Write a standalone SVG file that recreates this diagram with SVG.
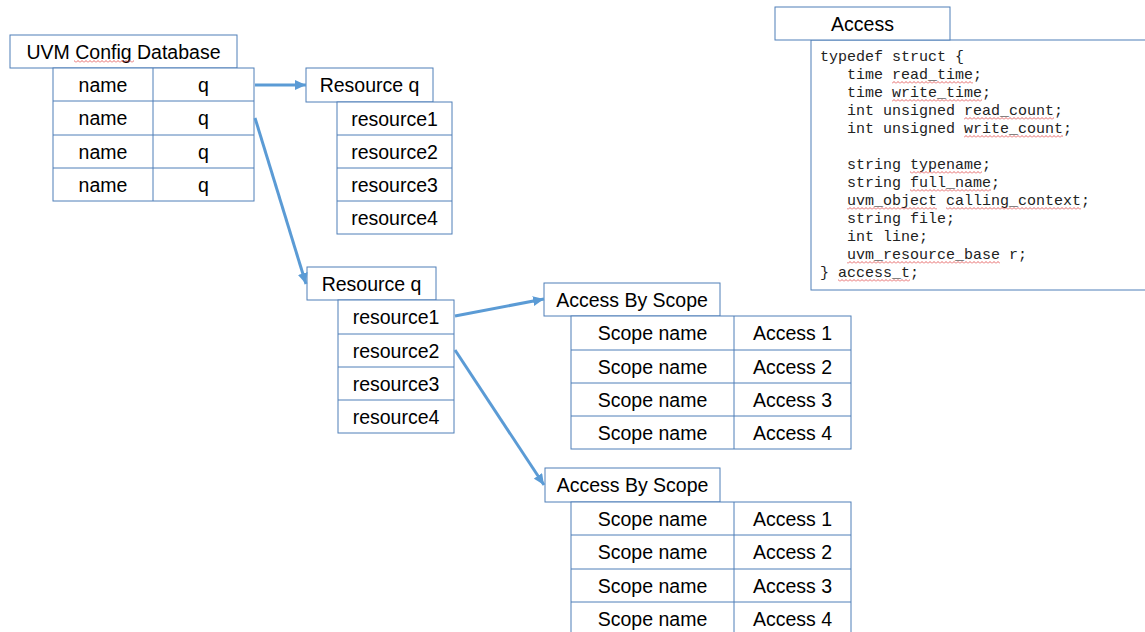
<svg xmlns="http://www.w3.org/2000/svg" width="1145" height="632" viewBox="0 0 1145 632">
  <style>
    .box { fill: #ffffff; stroke: #4f7fb8; stroke-width: 1; }
    .grid { fill: none; stroke: #4f7fb8; stroke-width: 1; }
    .t { font-family: "Liberation Sans", Arial, sans-serif; font-size: 19.5px; fill: #000000; text-anchor: middle; }
    .code { font-family: "Liberation Mono", "Courier New", monospace; font-size: 15px; fill: #222222; }
    .wire { fill: none; stroke: #5b9bd5; stroke-width: 3; marker-end: url(#head); }
    .squig { fill: url(#wave); }
  </style>
  <defs>
    <marker id="head" markerUnits="userSpaceOnUse" markerWidth="12" markerHeight="10" refX="11" refY="5" orient="auto">
      <path d="M0,0 L11,5 L0,10 z" fill="#5b9bd5"/>
    </marker>
    <!-- spell-check style wavy underline -->
    <pattern id="wave" patternUnits="userSpaceOnUse" width="4" height="3">
      <path d="M0,2.5 L2,0.5 L4,2.5" fill="none" stroke="#e04040" stroke-width="0.8"/>
    </pattern>
  </defs>

  <rect width="1145" height="632" fill="#ffffff"/>

  <!-- UVM config database -->
  <g id="uvm-config-db">
    <rect class="box" x="10" y="35" width="227" height="33"/>
    <text class="t" x="123.5" y="58.5">UVM Config Database</text>
    <rect class="squig" x="74" y="60" width="60" height="3"/>
    <rect class="box" x="53" y="68" width="201" height="133"/>
    <path class="grid" d="M53,101H254M53,135H254M53,168H254M153,68V201"/>
    <text class="t" x="103" y="91.5">name</text><text class="t" x="203.5" y="91.5">q</text>
    <text class="t" x="103" y="125">name</text><text class="t" x="203.5" y="125">q</text>
    <text class="t" x="103" y="158.5">name</text><text class="t" x="203.5" y="158.5">q</text>
    <text class="t" x="103" y="191.5">name</text><text class="t" x="203.5" y="191.5">q</text>
  </g>

  <!-- first resource queue -->
  <g id="resource-q-1">
    <rect class="box" x="306" y="68" width="127" height="34"/>
    <text class="t" x="369.5" y="92">Resource q</text>
    <rect class="box" x="337" y="102" width="115" height="132"/>
    <path class="grid" d="M337,135H452M337,168H452M337,201H452"/>
    <text class="t" x="394.5" y="125.5">resource1</text>
    <text class="t" x="394.5" y="158.5">resource2</text>
    <text class="t" x="394.5" y="191.5">resource3</text>
    <text class="t" x="394.5" y="224.5">resource4</text>
  </g>

  <!-- second resource queue -->
  <g id="resource-q-2">
    <rect class="box" x="307" y="267" width="129" height="33"/>
    <text class="t" x="371.5" y="290.5">Resource q</text>
    <rect class="box" x="338" y="300" width="116" height="133"/>
    <path class="grid" d="M338,334H454M338,367H454M338,400H454"/>
    <text class="t" x="396" y="324">resource1</text>
    <text class="t" x="396" y="357.5">resource2</text>
    <text class="t" x="396" y="390.5">resource3</text>
    <text class="t" x="396" y="423.5">resource4</text>
  </g>

  <!-- access-by-scope table for resource1 -->
  <g id="access-by-scope-1">
    <rect class="box" x="544" y="283" width="176" height="33"/>
    <text class="t" x="632" y="306.5">Access By Scope</text>
    <rect class="box" x="571" y="316" width="280" height="133"/>
    <path class="grid" d="M571,350H851M571,383H851M571,416H851M734,316V449"/>
    <text class="t" x="652.5" y="340">Scope name</text><text class="t" x="792.5" y="340">Access 1</text>
    <text class="t" x="652.5" y="373.5">Scope name</text><text class="t" x="792.5" y="373.5">Access 2</text>
    <text class="t" x="652.5" y="406.5">Scope name</text><text class="t" x="792.5" y="406.5">Access 3</text>
    <text class="t" x="652.5" y="439.5">Scope name</text><text class="t" x="792.5" y="439.5">Access 4</text>
  </g>

  <!-- access-by-scope table for resource2 -->
  <g id="access-by-scope-2">
    <rect class="box" x="545" y="468" width="175" height="34"/>
    <text class="t" x="632.5" y="492">Access By Scope</text>
    <rect class="box" x="571" y="502" width="280" height="134"/>
    <path class="grid" d="M571,535H851M571,569H851M571,602H851M734,502V636"/>
    <text class="t" x="652.5" y="525.5">Scope name</text><text class="t" x="792.5" y="525.5">Access 1</text>
    <text class="t" x="652.5" y="559">Scope name</text><text class="t" x="792.5" y="559">Access 2</text>
    <text class="t" x="652.5" y="592.5">Scope name</text><text class="t" x="792.5" y="592.5">Access 3</text>
    <text class="t" x="652.5" y="626">Scope name</text><text class="t" x="792.5" y="626">Access 4</text>
  </g>

  <!-- access record struct -->
  <g id="access-struct">
    <rect class="box" x="811" y="40" width="340" height="250"/>
    <rect class="box" x="775" y="7" width="175" height="33"/>
    <text class="t" x="862.5" y="30.5">Access</text>
    <text class="code" x="820" y="61">typedef struct {</text>
    <text class="code" x="847" y="79">time read_time;</text>
    <text class="code" x="847" y="97">time write_time;</text>
    <text class="code" x="847" y="115">int unsigned read_count;</text>
    <text class="code" x="847" y="133">int unsigned write_count;</text>
    <text class="code" x="847" y="169">string typename;</text>
    <text class="code" x="847" y="187">string full_name;</text>
    <text class="code" x="847" y="205">uvm_object calling_context;</text>
    <text class="code" x="847" y="223">string file;</text>
    <text class="code" x="847" y="241">int line;</text>
    <text class="code" x="847" y="259">uvm_resource_base r;</text>
    <text class="code" x="820" y="277">} access_t;</text>
    <rect class="squig" x="892" y="81" width="81" height="3"/>
    <rect class="squig" x="892" y="99" width="90" height="3"/>
    <rect class="squig" x="964" y="117" width="90" height="3"/>
    <rect class="squig" x="964" y="135" width="99" height="3"/>
    <rect class="squig" x="910" y="171" width="72" height="3"/>
    <rect class="squig" x="910" y="189" width="81" height="3"/>
    <rect class="squig" x="847" y="207" width="90" height="3"/>
    <rect class="squig" x="946" y="207" width="135" height="3"/>
    <rect class="squig" x="847" y="261" width="153" height="3"/>
    <rect class="squig" x="838" y="279" width="72" height="3"/>
  </g>

  <!-- connectors -->
  <g id="connectors">
    <path class="wire" d="M255,85 L306,85"/>
    <path class="wire" d="M255,118 L306,284"/>
    <path class="wire" d="M455,316 L544,299"/>
    <path class="wire" d="M455,350 L544,485"/>
  </g>
</svg>
